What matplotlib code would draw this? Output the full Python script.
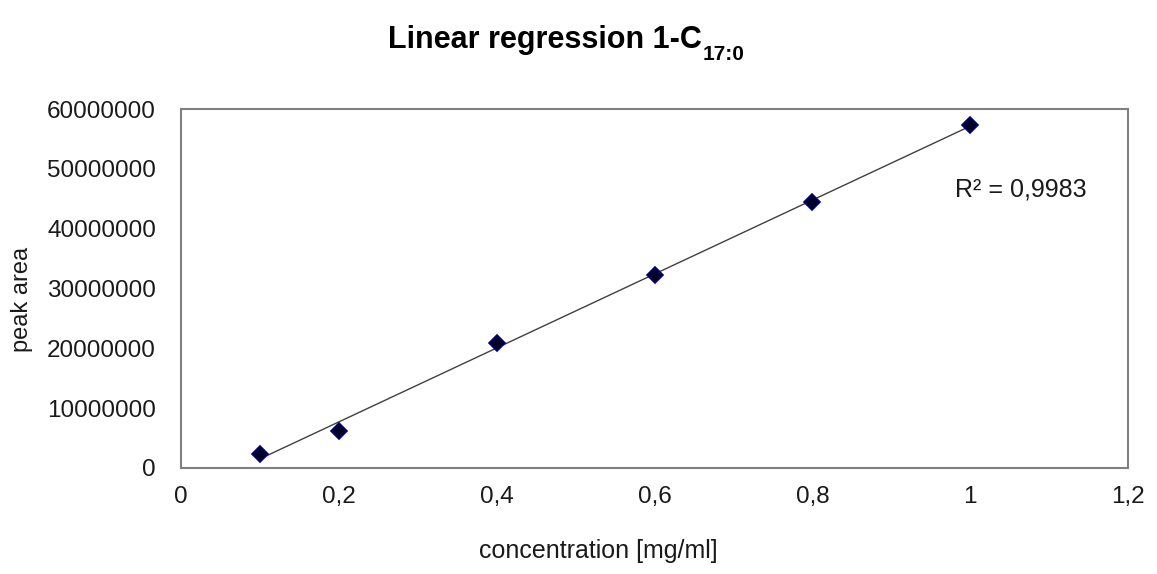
import numpy as np
import matplotlib.pyplot as plt

plt.rcParams['font.family'] = ['Liberation Sans', 'DejaVu Sans']

# data
conc = [0.1, 0.2, 0.4, 0.6, 0.8, 1.0]
area = [2.4e6, 6.2e6, 20.9e6, 32.3e6, 44.5e6, 57.3e6]
xticks = [0, 0.2, 0.4, 0.6, 0.8, 1.0, 1.2]
xtick_labels = ['0', '0,2', '0,4', '0,6', '0,8', '1', '1,2']
yticks = [0, 10000000, 20000000, 30000000, 40000000, 50000000, 60000000]
r2_label = 'R² = 0,9983'

fig = plt.figure(figsize=(11.57, 5.74), dpi=100)
ax = fig.add_axes([0.1564, 0.1847, 0.8186, 0.6254])

# trendline
k, b = np.polyfit(conc, area, 1)
xl = np.array([min(conc), max(conc)])
ax.plot(xl, k * xl + b, color='#404040', lw=1.0, zorder=2)

ax.plot(conc, area, 'D', ms=8, mfc='#000022', mec='#000080', mew=1.2, zorder=3)

ax.set_xlim(0, 1.2)
ax.set_ylim(0, 60000000)
ax.set_xticks(xticks)
ax.set_xticklabels(xtick_labels)
ax.set_yticks(yticks)
ax.set_yticklabels([str(v) for v in yticks])
ax.tick_params(length=0, labelsize=17.5, colors='#1a1a1a')
ax.tick_params(axis='y', pad=18)
ax.tick_params(axis='x', pad=13)
for s in ax.spines.values():
    s.set_color('#808080')
    s.set_linewidth(1.5)

ax.text(0.981, 46.5e6, r2_label, fontsize=18, color='#1a1a1a', va='center', ha='left')

fig.text(0.517, 0.04, 'concentration [mg/ml]', fontsize=18, ha='center', va='center', color='#1a1a1a')
fig.text(0.019, 0.478, 'peak area', fontsize=17, rotation=90, ha='center', va='center', color='#1a1a1a')

# title with subscript drawn as two pieces
t_main = fig.text(0.335, 0.93, 'Linear regression 1-C', fontsize=22,
                  fontweight='bold', ha='left', va='center')
r = fig.canvas.get_renderer()
bb = t_main.get_window_extent(renderer=r)
fig.text(bb.x1 / fig.bbox.width + 0.001, 0.905, '17:0', fontsize=15,
         fontweight='bold', ha='left', va='center')

fig.savefig('out.png', dpi=100)
